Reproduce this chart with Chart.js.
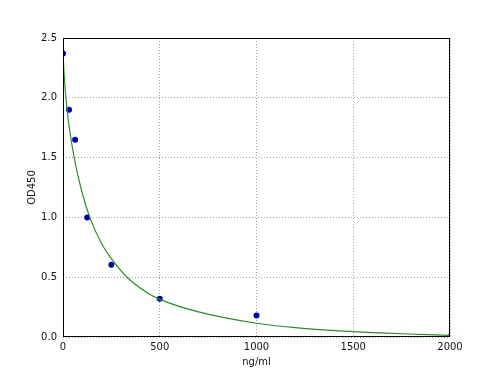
<!DOCTYPE html>
<html>
<head>
<meta charset="utf-8">
<script src="https://cdn.jsdelivr.net/npm/chart.js@4/dist/chart.umd.min.js"></script>
<style>
html,body{margin:0;padding:0;background:#fff;}
#wrap{width:500px;height:375px;}
</style>
</head>
<body>
<div id="wrap"><canvas id="c" width="500" height="375"></canvas></div>
<script>
// measured standards
const concX=[0,31.25,62.5,125,250,500,1000,2000];
const odY=[2.37,1.90,1.65,1.00,0.605,0.32,0.18,0.0];
// fitted curve
const fitX=[0,5,10,15,30,60,100,141,200,250,331,450,500,700,1000,1200,1500,1750,2000];
const fitY=[2.37,2.22,2.10,2.00,1.78,1.48,1.20,0.99,0.78,0.655,0.50,0.355,0.315,0.21,0.115,0.078,0.045,0.027,0.014];
const xTicks=[0,500,1000,1500,2000];
const yTicks=[0,0.5,1.0,1.5,2.0,2.5];

const FONT={family:'"DejaVu Sans", sans-serif',size:10};

const framePlugin={
  id:'frame',
  afterDatasetsDraw(chart){
    const {ctx,chartArea}=chart;
    ctx.save();
    ctx.strokeStyle='#000';
    ctx.lineWidth=1;
    ctx.strokeRect(chartArea.left+0.5,chartArea.top+0.5,chartArea.right-chartArea.left-1,chartArea.bottom-chartArea.top-1);
    ctx.restore();
  }
};

new Chart(document.getElementById('c').getContext('2d'),{
  type:'scatter',
  data:{
    datasets:[
      {
        label:'fit',
        data:fitX.map((x,i)=>({x,y:fitY[i]})),
        showLine:true,
        borderColor:'#2e8b2e',
        borderWidth:1.2,
        pointRadius:0,
        cubicInterpolationMode:'monotone',
        clip:0
      },
      {
        label:'OD450',
        data:concX.map((x,i)=>({x,y:odY[i]})),
        backgroundColor:'#0000a8',
        borderColor:'#0000a8',
        pointRadius:3,
        borderWidth:0,
        clip:0
      }
    ]
  },
  options:{
    responsive:false,
    animation:false,
    layout:{padding:{left:20,top:38,right:50,bottom:0}},
    plugins:{legend:{display:false},tooltip:{enabled:false}},
    scales:{
      x:{
        type:'linear',min:0,max:2000,
        afterBuildTicks(s){s.ticks=xTicks.map(v=>({value:v}));},
        afterFit(s){s.height=38;},
        border:{display:false,dash:[1,2]},
        grid:{color:'#a0a0a0',drawTicks:false,lineWidth:1},
        ticks:{font:FONT,color:'#111',padding:4,maxRotation:0,callback:v=>String(v)},
        title:{display:true,text:'ng/ml',font:FONT,color:'#111',padding:{top:0,bottom:7}}
      },
      y:{
        type:'linear',min:0,max:2.5,
        afterBuildTicks(s){s.ticks=yTicks.map(v=>({value:v}));},
        afterFit(s){s.width=43;},
        border:{display:false,dash:[1,2]},
        grid:{color:'#a0a0a0',drawTicks:false,lineWidth:1},
        ticks:{font:FONT,color:'#111',padding:6,callback:v=>Number(v).toFixed(1)},
        title:{display:true,text:'OD450',font:FONT,color:'#111',padding:{top:6,bottom:0}}
      }
    }
  },
  plugins:[framePlugin]
});
</script>
</body>
</html>
